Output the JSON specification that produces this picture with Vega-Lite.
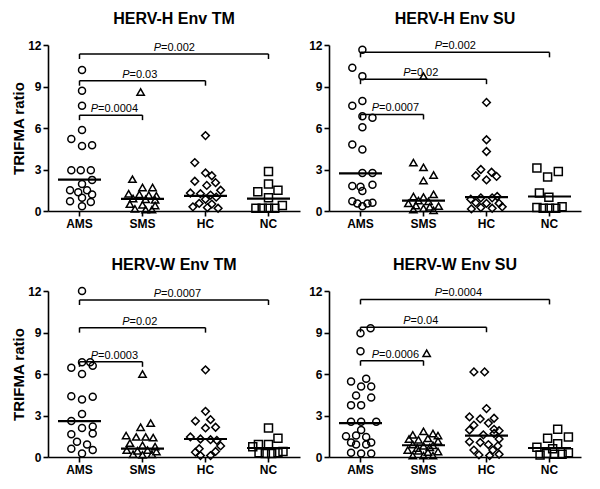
{
"$schema": "https://vega.github.io/schema/vega-lite/v6.json",
"background": "white",
"padding": {"left": 11, "top": 11, "right": 5, "bottom": 5},
"spacing": 27,
"config": {
 "view": {"stroke": null},
 "font": "Liberation Sans",
 "axis": {"domainColor": "#000", "domainWidth": 1.6, "tickColor": "#000", "tickWidth": 1.6, "tickSize": 5, "labelColor": "#000", "labelFont": "Liberation Sans", "labelFontSize": 12, "labelFontWeight": "bold", "grid": false, "titleFont": "Liberation Sans", "titleFontSize": 15, "titleFontWeight": "bold", "titleColor": "#000", "labelPadding": 2, "titlePadding": 1},
 "axisX": {"labelAngle": 0},
 "title": {"font": "Liberation Sans", "fontSize": 16, "fontWeight": "bold", "color": "#000", "anchor": "middle", "frame": "group", "offset": 12},
 "text": {"font": "Liberation Sans", "fontSize": 11, "color": "#000"}
},
"datasets": {
 "pts": [
  {"p":"HTM","g":"AMS","v":10.2,"j":0.04},{"p":"HTM","g":"AMS","v":8.7,"j":0.04},{"p":"HTM","g":"AMS","v":7.6,"j":0.04},{"p":"HTM","g":"AMS","v":5.85,"j":0.04},{"p":"HTM","g":"AMS","v":5.2,"j":-0.13},{"p":"HTM","g":"AMS","v":4.7,"j":0.04},{"p":"HTM","g":"AMS","v":4.75,"j":0.2},{"p":"HTM","g":"AMS","v":2.95,"j":-0.13},{"p":"HTM","g":"AMS","v":2.95,"j":0.02},{"p":"HTM","g":"AMS","v":2.95,"j":0.18},{"p":"HTM","g":"AMS","v":2.25,"j":0.2},{"p":"HTM","g":"AMS","v":1.95,"j":0.04},{"p":"HTM","g":"AMS","v":1.5,"j":-0.15},{"p":"HTM","g":"AMS","v":1.35,"j":-0.02},{"p":"HTM","g":"AMS","v":1.5,"j":0.12},{"p":"HTM","g":"AMS","v":1.2,"j":0.2},{"p":"HTM","g":"AMS","v":0.95,"j":0.04},{"p":"HTM","g":"AMS","v":0.7,"j":-0.15},{"p":"HTM","g":"AMS","v":0.65,"j":0.18},{"p":"HTM","g":"AMS","v":0.35,"j":0.04},
  {"p":"HTM","g":"SMS","v":8.6,"j":-0.03},{"p":"HTM","g":"SMS","v":2.3,"j":-0.16},{"p":"HTM","g":"SMS","v":1.7,"j":0.0},{"p":"HTM","g":"SMS","v":1.7,"j":0.16},{"p":"HTM","g":"SMS","v":1.25,"j":-0.22},{"p":"HTM","g":"SMS","v":1.2,"j":-0.05},{"p":"HTM","g":"SMS","v":1.15,"j":0.1},{"p":"HTM","g":"SMS","v":1.1,"j":0.22},{"p":"HTM","g":"SMS","v":0.9,"j":-0.15},{"p":"HTM","g":"SMS","v":0.85,"j":0.05},{"p":"HTM","g":"SMS","v":0.8,"j":0.2},{"p":"HTM","g":"SMS","v":0.5,"j":-0.2},{"p":"HTM","g":"SMS","v":0.45,"j":0.0},{"p":"HTM","g":"SMS","v":0.4,"j":0.2},{"p":"HTM","g":"SMS","v":0.15,"j":-0.12},{"p":"HTM","g":"SMS","v":0.1,"j":0.05},{"p":"HTM","g":"SMS","v":0.1,"j":0.15},
  {"p":"HTM","g":"HC","v":5.45,"j":0.0},{"p":"HTM","g":"HC","v":3.5,"j":-0.17},{"p":"HTM","g":"HC","v":2.75,"j":0.0},{"p":"HTM","g":"HC","v":2.55,"j":0.1},{"p":"HTM","g":"HC","v":2.15,"j":-0.17},{"p":"HTM","g":"HC","v":2.05,"j":0.16},{"p":"HTM","g":"HC","v":1.85,"j":0.02},{"p":"HTM","g":"HC","v":1.5,"j":0.24},{"p":"HTM","g":"HC","v":1.3,"j":-0.24},{"p":"HTM","g":"HC","v":1.25,"j":-0.08},{"p":"HTM","g":"HC","v":1.15,"j":0.08},{"p":"HTM","g":"HC","v":1.0,"j":0.17},{"p":"HTM","g":"HC","v":0.85,"j":0.0},{"p":"HTM","g":"HC","v":0.55,"j":-0.1},{"p":"HTM","g":"HC","v":0.5,"j":0.1},{"p":"HTM","g":"HC","v":0.3,"j":-0.2},{"p":"HTM","g":"HC","v":0.25,"j":0.03},{"p":"HTM","g":"HC","v":0.2,"j":0.2},
  {"p":"HTM","g":"NC","v":2.85,"j":0.0},{"p":"HTM","g":"NC","v":1.95,"j":0.0},{"p":"HTM","g":"NC","v":1.4,"j":-0.17},{"p":"HTM","g":"NC","v":1.5,"j":0.15},{"p":"HTM","g":"NC","v":0.95,"j":0.0},{"p":"HTM","g":"NC","v":0.4,"j":0.22},{"p":"HTM","g":"NC","v":0.2,"j":-0.2},{"p":"HTM","g":"NC","v":0.2,"j":-0.1},{"p":"HTM","g":"NC","v":0.2,"j":0.0},{"p":"HTM","g":"NC","v":0.2,"j":0.1},

  {"p":"HSU","g":"AMS","v":11.65,"j":0.03},{"p":"HSU","g":"AMS","v":10.35,"j":-0.13},{"p":"HSU","g":"AMS","v":9.75,"j":0.03},{"p":"HSU","g":"AMS","v":7.95,"j":0.03},{"p":"HSU","g":"AMS","v":7.6,"j":-0.13},{"p":"HSU","g":"AMS","v":6.85,"j":0.03},{"p":"HSU","g":"AMS","v":6.75,"j":0.19},{"p":"HSU","g":"AMS","v":6.05,"j":0.03},{"p":"HSU","g":"AMS","v":4.8,"j":-0.13},{"p":"HSU","g":"AMS","v":4.45,"j":0.03},{"p":"HSU","g":"AMS","v":2.75,"j":0.03},{"p":"HSU","g":"AMS","v":2.75,"j":0.19},{"p":"HSU","g":"AMS","v":1.8,"j":-0.13},{"p":"HSU","g":"AMS","v":1.9,"j":0.19},{"p":"HSU","g":"AMS","v":1.75,"j":0.0},{"p":"HSU","g":"AMS","v":1.45,"j":0.03},{"p":"HSU","g":"AMS","v":0.7,"j":-0.13},{"p":"HSU","g":"AMS","v":0.55,"j":-0.05},{"p":"HSU","g":"AMS","v":0.55,"j":0.11},{"p":"HSU","g":"AMS","v":0.6,"j":0.19},{"p":"HSU","g":"AMS","v":0.35,"j":0.03},
  {"p":"HSU","g":"SMS","v":9.75,"j":0.0},{"p":"HSU","g":"SMS","v":3.5,"j":-0.16},{"p":"HSU","g":"SMS","v":3.15,"j":0.0},{"p":"HSU","g":"SMS","v":2.6,"j":0.16},{"p":"HSU","g":"SMS","v":2.2,"j":0.0},{"p":"HSU","g":"SMS","v":1.2,"j":0.16},{"p":"HSU","g":"SMS","v":1.05,"j":-0.16},{"p":"HSU","g":"SMS","v":1.0,"j":0.0},{"p":"HSU","g":"SMS","v":0.75,"j":-0.08},{"p":"HSU","g":"SMS","v":0.7,"j":0.08},{"p":"HSU","g":"SMS","v":0.55,"j":-0.24},{"p":"HSU","g":"SMS","v":0.4,"j":-0.12},{"p":"HSU","g":"SMS","v":0.35,"j":0.24},{"p":"HSU","g":"SMS","v":0.3,"j":0.1},{"p":"HSU","g":"SMS","v":0.2,"j":0.0},{"p":"HSU","g":"SMS","v":0.1,"j":-0.16},{"p":"HSU","g":"SMS","v":0.05,"j":0.16},
  {"p":"HSU","g":"HC","v":7.85,"j":0.0},{"p":"HSU","g":"HC","v":5.15,"j":0.0},{"p":"HSU","g":"HC","v":4.3,"j":0.0},{"p":"HSU","g":"HC","v":3.0,"j":-0.09},{"p":"HSU","g":"HC","v":2.8,"j":0.08},{"p":"HSU","g":"HC","v":2.55,"j":-0.17},{"p":"HSU","g":"HC","v":2.5,"j":0.16},{"p":"HSU","g":"HC","v":2.25,"j":0.0},{"p":"HSU","g":"HC","v":1.05,"j":0.17},{"p":"HSU","g":"HC","v":0.95,"j":-0.09},{"p":"HSU","g":"HC","v":0.95,"j":0.09},{"p":"HSU","g":"HC","v":0.85,"j":-0.25},{"p":"HSU","g":"HC","v":0.6,"j":-0.17},{"p":"HSU","g":"HC","v":0.55,"j":0.0},{"p":"HSU","g":"HC","v":0.55,"j":0.2},{"p":"HSU","g":"HC","v":0.25,"j":-0.09},{"p":"HSU","g":"HC","v":0.2,"j":0.09},{"p":"HSU","g":"HC","v":0.15,"j":-0.24},{"p":"HSU","g":"HC","v":0.3,"j":0.25},
  {"p":"HSU","g":"NC","v":3.1,"j":-0.2},{"p":"HSU","g":"NC","v":2.85,"j":0.14},{"p":"HSU","g":"NC","v":2.45,"j":-0.03},{"p":"HSU","g":"NC","v":1.3,"j":-0.16},{"p":"HSU","g":"NC","v":1.0,"j":-0.01},{"p":"HSU","g":"NC","v":0.25,"j":-0.2},{"p":"HSU","g":"NC","v":0.2,"j":-0.1},{"p":"HSU","g":"NC","v":0.2,"j":0.0},{"p":"HSU","g":"NC","v":0.2,"j":0.1},{"p":"HSU","g":"NC","v":0.3,"j":0.2},

  {"p":"WTM","g":"AMS","v":12.0,"j":0.04},{"p":"WTM","g":"AMS","v":6.85,"j":0.04},{"p":"WTM","g":"AMS","v":6.85,"j":0.17},{"p":"WTM","g":"AMS","v":6.45,"j":-0.13},{"p":"WTM","g":"AMS","v":6.6,"j":0.21},{"p":"WTM","g":"AMS","v":6.0,"j":0.04},{"p":"WTM","g":"AMS","v":4.4,"j":-0.13},{"p":"WTM","g":"AMS","v":4.15,"j":0.04},{"p":"WTM","g":"AMS","v":4.35,"j":0.21},{"p":"WTM","g":"AMS","v":3.1,"j":0.04},{"p":"WTM","g":"AMS","v":2.6,"j":-0.13},{"p":"WTM","g":"AMS","v":2.1,"j":0.04},{"p":"WTM","g":"AMS","v":2.2,"j":0.21},{"p":"WTM","g":"AMS","v":1.65,"j":-0.13},{"p":"WTM","g":"AMS","v":1.7,"j":0.21},{"p":"WTM","g":"AMS","v":1.1,"j":-0.04},{"p":"WTM","g":"AMS","v":0.9,"j":0.12},{"p":"WTM","g":"AMS","v":0.6,"j":-0.13},{"p":"WTM","g":"AMS","v":0.5,"j":0.21},{"p":"WTM","g":"AMS","v":0.25,"j":0.04},
  {"p":"WTM","g":"SMS","v":6.0,"j":0.0},{"p":"WTM","g":"SMS","v":2.45,"j":0.13},{"p":"WTM","g":"SMS","v":2.15,"j":-0.03},{"p":"WTM","g":"SMS","v":1.55,"j":-0.26},{"p":"WTM","g":"SMS","v":1.45,"j":-0.1},{"p":"WTM","g":"SMS","v":1.45,"j":0.05},{"p":"WTM","g":"SMS","v":1.4,"j":0.17},{"p":"WTM","g":"SMS","v":1.0,"j":-0.2},{"p":"WTM","g":"SMS","v":0.85,"j":0.0},{"p":"WTM","g":"SMS","v":0.75,"j":0.2},{"p":"WTM","g":"SMS","v":0.5,"j":-0.25},{"p":"WTM","g":"SMS","v":0.45,"j":-0.08},{"p":"WTM","g":"SMS","v":0.5,"j":0.08},{"p":"WTM","g":"SMS","v":0.4,"j":0.22},{"p":"WTM","g":"SMS","v":0.2,"j":-0.15},{"p":"WTM","g":"SMS","v":0.15,"j":0.0},{"p":"WTM","g":"SMS","v":0.2,"j":0.15},
  {"p":"WTM","g":"HC","v":6.3,"j":0.0},{"p":"WTM","g":"HC","v":3.3,"j":0.0},{"p":"WTM","g":"HC","v":2.6,"j":-0.16},{"p":"WTM","g":"HC","v":2.7,"j":0.08},{"p":"WTM","g":"HC","v":2.1,"j":0.0},{"p":"WTM","g":"HC","v":2.15,"j":0.16},{"p":"WTM","g":"HC","v":1.45,"j":-0.24},{"p":"WTM","g":"HC","v":1.3,"j":-0.08},{"p":"WTM","g":"HC","v":1.25,"j":0.08},{"p":"WTM","g":"HC","v":1.2,"j":0.18},{"p":"WTM","g":"HC","v":0.8,"j":0.24},{"p":"WTM","g":"HC","v":0.6,"j":-0.1},{"p":"WTM","g":"HC","v":0.35,"j":-0.16},{"p":"WTM","g":"HC","v":0.4,"j":0.16},{"p":"WTM","g":"HC","v":0.1,"j":-0.08},{"p":"WTM","g":"HC","v":0.1,"j":0.08},
  {"p":"WTM","g":"NC","v":2.1,"j":0.0},{"p":"WTM","g":"NC","v":1.35,"j":0.15},{"p":"WTM","g":"NC","v":0.9,"j":-0.16},{"p":"WTM","g":"NC","v":0.9,"j":0.0},{"p":"WTM","g":"NC","v":0.75,"j":-0.25},{"p":"WTM","g":"NC","v":0.3,"j":-0.15},{"p":"WTM","g":"NC","v":0.25,"j":-0.05},{"p":"WTM","g":"NC","v":0.25,"j":0.05},{"p":"WTM","g":"NC","v":0.3,"j":0.15},{"p":"WTM","g":"NC","v":0.4,"j":0.23},

  {"p":"WSU","g":"AMS","v":9.3,"j":0.16},{"p":"WSU","g":"AMS","v":8.95,"j":0.0},{"p":"WSU","g":"AMS","v":7.65,"j":0.0},{"p":"WSU","g":"AMS","v":5.45,"j":-0.15},{"p":"WSU","g":"AMS","v":5.65,"j":0.09},{"p":"WSU","g":"AMS","v":5.1,"j":0.01},{"p":"WSU","g":"AMS","v":5.1,"j":0.17},{"p":"WSU","g":"AMS","v":4.45,"j":-0.07},{"p":"WSU","g":"AMS","v":4.3,"j":0.17},{"p":"WSU","g":"AMS","v":3.75,"j":-0.15},{"p":"WSU","g":"AMS","v":3.75,"j":0.01},{"p":"WSU","g":"AMS","v":2.55,"j":-0.15},{"p":"WSU","g":"AMS","v":2.55,"j":0.01},{"p":"WSU","g":"AMS","v":2.55,"j":0.25},{"p":"WSU","g":"AMS","v":1.95,"j":0.01},{"p":"WSU","g":"AMS","v":1.5,"j":-0.23},{"p":"WSU","g":"AMS","v":1.55,"j":-0.07},{"p":"WSU","g":"AMS","v":1.45,"j":0.09},{"p":"WSU","g":"AMS","v":1.05,"j":-0.15},{"p":"WSU","g":"AMS","v":1.05,"j":0.17},{"p":"WSU","g":"AMS","v":0.9,"j":-0.07},{"p":"WSU","g":"AMS","v":0.9,"j":0.09},{"p":"WSU","g":"AMS","v":0.3,"j":-0.15},{"p":"WSU","g":"AMS","v":0.25,"j":0.01},{"p":"WSU","g":"AMS","v":0.25,"j":0.17},
  {"p":"WSU","g":"SMS","v":7.5,"j":0.05},{"p":"WSU","g":"SMS","v":1.85,"j":0.0},{"p":"WSU","g":"SMS","v":1.7,"j":0.15},{"p":"WSU","g":"SMS","v":1.6,"j":-0.17},{"p":"WSU","g":"SMS","v":1.55,"j":0.23},{"p":"WSU","g":"SMS","v":1.3,"j":-0.23},{"p":"WSU","g":"SMS","v":1.25,"j":-0.08},{"p":"WSU","g":"SMS","v":1.35,"j":0.07},{"p":"WSU","g":"SMS","v":1.15,"j":0.23},{"p":"WSU","g":"SMS","v":0.9,"j":-0.17},{"p":"WSU","g":"SMS","v":0.8,"j":0.0},{"p":"WSU","g":"SMS","v":0.85,"j":0.15},{"p":"WSU","g":"SMS","v":0.5,"j":-0.25},{"p":"WSU","g":"SMS","v":0.45,"j":-0.08},{"p":"WSU","g":"SMS","v":0.35,"j":0.07},{"p":"WSU","g":"SMS","v":0.4,"j":0.23},{"p":"WSU","g":"SMS","v":0.1,"j":-0.17},{"p":"WSU","g":"SMS","v":0.1,"j":0.0},{"p":"WSU","g":"SMS","v":0.1,"j":0.15},{"p":"WSU","g":"SMS","v":0.65,"j":-0.1},{"p":"WSU","g":"SMS","v":0.7,"j":0.1},
  {"p":"WSU","g":"HC","v":6.15,"j":-0.2},{"p":"WSU","g":"HC","v":6.15,"j":-0.03},{"p":"WSU","g":"HC","v":3.5,"j":0.0},{"p":"WSU","g":"HC","v":2.9,"j":-0.27},{"p":"WSU","g":"HC","v":2.75,"j":-0.1},{"p":"WSU","g":"HC","v":2.8,"j":0.12},{"p":"WSU","g":"HC","v":2.3,"j":-0.2},{"p":"WSU","g":"HC","v":2.45,"j":0.03},{"p":"WSU","g":"HC","v":2.0,"j":0.12},{"p":"WSU","g":"HC","v":1.95,"j":-0.27},{"p":"WSU","g":"HC","v":1.9,"j":0.2},{"p":"WSU","g":"HC","v":1.6,"j":-0.05},{"p":"WSU","g":"HC","v":1.7,"j":0.12},{"p":"WSU","g":"HC","v":1.3,"j":0.2},{"p":"WSU","g":"HC","v":1.1,"j":-0.27},{"p":"WSU","g":"HC","v":1.05,"j":-0.1},{"p":"WSU","g":"HC","v":0.9,"j":0.03},{"p":"WSU","g":"HC","v":0.8,"j":0.18},{"p":"WSU","g":"HC","v":0.5,"j":-0.2},{"p":"WSU","g":"HC","v":0.5,"j":0.1},{"p":"WSU","g":"HC","v":0.15,"j":-0.12},{"p":"WSU","g":"HC","v":0.1,"j":0.05},{"p":"WSU","g":"HC","v":0.2,"j":0.2},
  {"p":"WSU","g":"NC","v":2.0,"j":0.13},{"p":"WSU","g":"NC","v":1.35,"j":-0.03},{"p":"WSU","g":"NC","v":1.45,"j":0.3},{"p":"WSU","g":"NC","v":0.95,"j":0.13},{"p":"WSU","g":"NC","v":0.7,"j":-0.2},{"p":"WSU","g":"NC","v":0.6,"j":0.05},{"p":"WSU","g":"NC","v":0.25,"j":-0.05},{"p":"WSU","g":"NC","v":0.2,"j":0.08},{"p":"WSU","g":"NC","v":0.2,"j":0.2},{"p":"WSU","g":"NC","v":0.3,"j":0.3},{"p":"WSU","g":"NC","v":0.15,"j":-0.15}
 ],
 "med": [
  {"p":"HTM","g":"AMS","v":2.27},{"p":"HTM","g":"SMS","v":0.87},{"p":"HTM","g":"HC","v":1.1},{"p":"HTM","g":"NC","v":0.9},
  {"p":"HSU","g":"AMS","v":2.72},{"p":"HSU","g":"SMS","v":0.75},{"p":"HSU","g":"HC","v":1.0},{"p":"HSU","g":"NC","v":1.05},
  {"p":"WTM","g":"AMS","v":2.6},{"p":"WTM","g":"SMS","v":0.6},{"p":"WTM","g":"HC","v":1.3},{"p":"WTM","g":"NC","v":0.65},
  {"p":"WSU","g":"AMS","v":2.45},{"p":"WSU","g":"SMS","v":0.85},{"p":"WSU","g":"HC","v":1.55},{"p":"WSU","g":"NC","v":0.65}
 ],
 "br": [
  {"p":"HTM","a":1,"b":2,"v":6.93,"t":"=0.0004"},{"p":"HTM","a":1,"b":3,"v":9.42,"t":"=0.03"},{"p":"HTM","a":1,"b":4,"v":11.35,"t":"=0.002"},
  {"p":"HSU","a":1,"b":2,"v":6.98,"t":"=0.0007"},{"p":"HSU","a":1,"b":3,"v":9.53,"t":"=0.02"},{"p":"HSU","a":1,"b":4,"v":11.47,"t":"=0.002"},
  {"p":"WTM","a":1,"b":2,"v":6.88,"t":"=0.0003"},{"p":"WTM","a":1,"b":3,"v":9.35,"t":"=0.02"},{"p":"WTM","a":1,"b":4,"v":11.35,"t":"=0.0007"},
  {"p":"WSU","a":1,"b":2,"v":6.96,"t":"=0.0006"},{"p":"WSU","a":1,"b":3,"v":9.38,"t":"=0.04"},{"p":"WSU","a":1,"b":4,"v":11.39,"t":"=0.0004"}
 ]
},
"vconcat": [
 {"spacing": 8, "hconcat": [
  {"width": 252, "height": 166, "title": {"text": "HERV-H Env TM"}, "resolve": {"scale": {"x": "independent"}},
   "layer": [
    {"layer": [
     {"data": {"name": "pts"}, "transform": [{"filter": "datum.p === 'HTM'"}],
      "mark": {"type": "point", "filled": false, "stroke": "#000", "strokeWidth": 1.5, "opacity": 1},
      "encoding": {
       "x": {"field": "g", "type": "nominal", "scale": {"domain": ["AMS","SMS","HC","NC"], "paddingInner": 0, "paddingOuter": 0}, "axis": {"title": null}},
       "xOffset": {"field": "j", "type": "quantitative", "scale": {"domain": [-0.5, 0.5]}},
       "y": {"field": "v", "type": "quantitative", "scale": {"domain": [0, 12], "nice": false}, "axis": {"values": [0,3,6,9,12]}, "title": "TRIFMA ratio"},
       "shape": {"field": "g", "type": "nominal", "scale": {"domain": ["AMS","SMS","HC","NC"], "range": ["circle","triangle-up","diamond","square"]}, "legend": null},
       "size": {"field": "g", "type": "nominal", "scale": {"domain": ["AMS","SMS","HC","NC"], "range": [49,64,81,49]}, "legend": null}
      }},
     {"data": {"name": "med"}, "transform": [{"filter": "datum.p === 'HTM'"}],
      "mark": {"type": "tick", "orient": "horizontal", "color": "#000", "size": 43, "thickness": 2.2, "opacity": 1},
      "encoding": {"x": {"field": "g", "type": "nominal"}, "y": {"field": "v", "type": "quantitative", "title": "TRIFMA ratio"}}}
    ]},
    {"data": {"name": "br"}, "transform": [{"filter": "datum.p === 'HTM'"}],
     "layer": [
      {"mark": {"type": "rule", "color": "#000", "strokeWidth": 1.5}, "encoding": {"x": {"field": "a", "type": "quantitative", "scale": {"domain": [0.5, 4.5]}, "axis": null}, "x2": {"field": "b"}, "y": {"field": "v", "type": "quantitative", "title": "TRIFMA ratio"}}},
      {"mark": {"type": "tick", "orient": "vertical", "color": "#000", "size": 5, "thickness": 1.5, "yOffset": 2.5, "opacity": 1}, "encoding": {"x": {"field": "a", "type": "quantitative", "axis": null}, "y": {"field": "v", "type": "quantitative", "title": "TRIFMA ratio"}}},
      {"mark": {"type": "tick", "orient": "vertical", "color": "#000", "size": 5, "thickness": 1.5, "yOffset": 2.5, "opacity": 1}, "encoding": {"x": {"field": "b", "type": "quantitative", "axis": null}, "y": {"field": "v", "type": "quantitative", "title": "TRIFMA ratio"}}},
      {"transform": [{"fold": ["a","b"], "as": ["k","xv"]}], "mark": {"type": "text", "fontStyle": "italic", "align": "right", "baseline": "alphabetic", "dx": -13, "dy": -3}, "encoding": {"x": {"aggregate": "mean", "field": "xv", "type": "quantitative", "axis": null}, "y": {"field": "v", "type": "quantitative", "title": "TRIFMA ratio"}, "detail": {"field": "t"}, "text": {"value": "P"}}},
      {"transform": [{"fold": ["a","b"], "as": ["k","xv"]}], "mark": {"type": "text", "align": "left", "baseline": "alphabetic", "dx": -13, "dy": -3}, "encoding": {"x": {"aggregate": "mean", "field": "xv", "type": "quantitative", "axis": null}, "y": {"field": "v", "type": "quantitative", "title": "TRIFMA ratio"}, "text": {"field": "t"}}}
     ]}
   ]},
  {"width": 252, "height": 166, "title": {"text": "HERV-H  Env SU"}, "resolve": {"scale": {"x": "independent"}},
   "layer": [
    {"layer": [
     {"data": {"name": "pts"}, "transform": [{"filter": "datum.p === 'HSU'"}],
      "mark": {"type": "point", "filled": false, "stroke": "#000", "strokeWidth": 1.5, "opacity": 1},
      "encoding": {
       "x": {"field": "g", "type": "nominal", "scale": {"domain": ["AMS","SMS","HC","NC"], "paddingInner": 0, "paddingOuter": 0}, "axis": {"title": null}},
       "xOffset": {"field": "j", "type": "quantitative", "scale": {"domain": [-0.5, 0.5]}},
       "y": {"field": "v", "type": "quantitative", "scale": {"domain": [0, 12], "nice": false}, "axis": {"values": [0,3,6,9,12]}, "title": null},
       "shape": {"field": "g", "type": "nominal", "scale": {"domain": ["AMS","SMS","HC","NC"], "range": ["circle","triangle-up","diamond","square"]}, "legend": null},
       "size": {"field": "g", "type": "nominal", "scale": {"domain": ["AMS","SMS","HC","NC"], "range": [49,64,81,49]}, "legend": null}
      }},
     {"data": {"name": "med"}, "transform": [{"filter": "datum.p === 'HSU'"}],
      "mark": {"type": "tick", "orient": "horizontal", "color": "#000", "size": 43, "thickness": 2.2, "opacity": 1},
      "encoding": {"x": {"field": "g", "type": "nominal"}, "y": {"field": "v", "type": "quantitative", "title": null}}}
    ]},
    {"data": {"name": "br"}, "transform": [{"filter": "datum.p === 'HSU'"}],
     "layer": [
      {"mark": {"type": "rule", "color": "#000", "strokeWidth": 1.5}, "encoding": {"x": {"field": "a", "type": "quantitative", "scale": {"domain": [0.5, 4.5]}, "axis": null}, "x2": {"field": "b"}, "y": {"field": "v", "type": "quantitative", "title": null}}},
      {"mark": {"type": "tick", "orient": "vertical", "color": "#000", "size": 5, "thickness": 1.5, "yOffset": 2.5, "opacity": 1}, "encoding": {"x": {"field": "a", "type": "quantitative", "axis": null}, "y": {"field": "v", "type": "quantitative", "title": null}}},
      {"mark": {"type": "tick", "orient": "vertical", "color": "#000", "size": 5, "thickness": 1.5, "yOffset": 2.5, "opacity": 1}, "encoding": {"x": {"field": "b", "type": "quantitative", "axis": null}, "y": {"field": "v", "type": "quantitative", "title": null}}},
      {"transform": [{"fold": ["a","b"], "as": ["k","xv"]}], "mark": {"type": "text", "fontStyle": "italic", "align": "right", "baseline": "alphabetic", "dx": -13, "dy": -3}, "encoding": {"x": {"aggregate": "mean", "field": "xv", "type": "quantitative", "axis": null}, "y": {"field": "v", "type": "quantitative", "title": null}, "detail": {"field": "t"}, "text": {"value": "P"}}},
      {"transform": [{"fold": ["a","b"], "as": ["k","xv"]}], "mark": {"type": "text", "align": "left", "baseline": "alphabetic", "dx": -13, "dy": -3}, "encoding": {"x": {"aggregate": "mean", "field": "xv", "type": "quantitative", "axis": null}, "y": {"field": "v", "type": "quantitative", "title": null}, "text": {"field": "t"}}}
     ]}
   ]}
 ]},
 {"spacing": 8, "hconcat": [
  {"width": 252, "height": 166, "title": {"text": "HERV-W Env TM"}, "resolve": {"scale": {"x": "independent"}},
   "layer": [
    {"layer": [
     {"data": {"name": "pts"}, "transform": [{"filter": "datum.p === 'WTM'"}],
      "mark": {"type": "point", "filled": false, "stroke": "#000", "strokeWidth": 1.5, "opacity": 1},
      "encoding": {
       "x": {"field": "g", "type": "nominal", "scale": {"domain": ["AMS","SMS","HC","NC"], "paddingInner": 0, "paddingOuter": 0}, "axis": {"title": null}},
       "xOffset": {"field": "j", "type": "quantitative", "scale": {"domain": [-0.5, 0.5]}},
       "y": {"field": "v", "type": "quantitative", "scale": {"domain": [0, 12], "nice": false}, "axis": {"values": [0,3,6,9,12]}, "title": "TRIFMA ratio"},
       "shape": {"field": "g", "type": "nominal", "scale": {"domain": ["AMS","SMS","HC","NC"], "range": ["circle","triangle-up","diamond","square"]}, "legend": null},
       "size": {"field": "g", "type": "nominal", "scale": {"domain": ["AMS","SMS","HC","NC"], "range": [49,64,81,49]}, "legend": null}
      }},
     {"data": {"name": "med"}, "transform": [{"filter": "datum.p === 'WTM'"}],
      "mark": {"type": "tick", "orient": "horizontal", "color": "#000", "size": 43, "thickness": 2.2, "opacity": 1},
      "encoding": {"x": {"field": "g", "type": "nominal"}, "y": {"field": "v", "type": "quantitative", "title": "TRIFMA ratio"}}}
    ]},
    {"data": {"name": "br"}, "transform": [{"filter": "datum.p === 'WTM'"}],
     "layer": [
      {"mark": {"type": "rule", "color": "#000", "strokeWidth": 1.5}, "encoding": {"x": {"field": "a", "type": "quantitative", "scale": {"domain": [0.5, 4.5]}, "axis": null}, "x2": {"field": "b"}, "y": {"field": "v", "type": "quantitative", "title": "TRIFMA ratio"}}},
      {"mark": {"type": "tick", "orient": "vertical", "color": "#000", "size": 5, "thickness": 1.5, "yOffset": 2.5, "opacity": 1}, "encoding": {"x": {"field": "a", "type": "quantitative", "axis": null}, "y": {"field": "v", "type": "quantitative", "title": "TRIFMA ratio"}}},
      {"mark": {"type": "tick", "orient": "vertical", "color": "#000", "size": 5, "thickness": 1.5, "yOffset": 2.5, "opacity": 1}, "encoding": {"x": {"field": "b", "type": "quantitative", "axis": null}, "y": {"field": "v", "type": "quantitative", "title": "TRIFMA ratio"}}},
      {"transform": [{"fold": ["a","b"], "as": ["k","xv"]}], "mark": {"type": "text", "fontStyle": "italic", "align": "right", "baseline": "alphabetic", "dx": -13, "dy": -3}, "encoding": {"x": {"aggregate": "mean", "field": "xv", "type": "quantitative", "axis": null}, "y": {"field": "v", "type": "quantitative", "title": "TRIFMA ratio"}, "detail": {"field": "t"}, "text": {"value": "P"}}},
      {"transform": [{"fold": ["a","b"], "as": ["k","xv"]}], "mark": {"type": "text", "align": "left", "baseline": "alphabetic", "dx": -13, "dy": -3}, "encoding": {"x": {"aggregate": "mean", "field": "xv", "type": "quantitative", "axis": null}, "y": {"field": "v", "type": "quantitative", "title": "TRIFMA ratio"}, "text": {"field": "t"}}}
     ]}
   ]},
  {"width": 252, "height": 166, "title": {"text": "HERV-W Env SU"}, "resolve": {"scale": {"x": "independent"}},
   "layer": [
    {"layer": [
     {"data": {"name": "pts"}, "transform": [{"filter": "datum.p === 'WSU'"}],
      "mark": {"type": "point", "filled": false, "stroke": "#000", "strokeWidth": 1.5, "opacity": 1},
      "encoding": {
       "x": {"field": "g", "type": "nominal", "scale": {"domain": ["AMS","SMS","HC","NC"], "paddingInner": 0, "paddingOuter": 0}, "axis": {"title": null}},
       "xOffset": {"field": "j", "type": "quantitative", "scale": {"domain": [-0.5, 0.5]}},
       "y": {"field": "v", "type": "quantitative", "scale": {"domain": [0, 12], "nice": false}, "axis": {"values": [0,3,6,9,12]}, "title": null},
       "shape": {"field": "g", "type": "nominal", "scale": {"domain": ["AMS","SMS","HC","NC"], "range": ["circle","triangle-up","diamond","square"]}, "legend": null},
       "size": {"field": "g", "type": "nominal", "scale": {"domain": ["AMS","SMS","HC","NC"], "range": [49,64,81,49]}, "legend": null}
      }},
     {"data": {"name": "med"}, "transform": [{"filter": "datum.p === 'WSU'"}],
      "mark": {"type": "tick", "orient": "horizontal", "color": "#000", "size": 43, "thickness": 2.2, "opacity": 1},
      "encoding": {"x": {"field": "g", "type": "nominal"}, "y": {"field": "v", "type": "quantitative", "title": null}}}
    ]},
    {"data": {"name": "br"}, "transform": [{"filter": "datum.p === 'WSU'"}],
     "layer": [
      {"mark": {"type": "rule", "color": "#000", "strokeWidth": 1.5}, "encoding": {"x": {"field": "a", "type": "quantitative", "scale": {"domain": [0.5, 4.5]}, "axis": null}, "x2": {"field": "b"}, "y": {"field": "v", "type": "quantitative", "title": null}}},
      {"mark": {"type": "tick", "orient": "vertical", "color": "#000", "size": 5, "thickness": 1.5, "yOffset": 2.5, "opacity": 1}, "encoding": {"x": {"field": "a", "type": "quantitative", "axis": null}, "y": {"field": "v", "type": "quantitative", "title": null}}},
      {"mark": {"type": "tick", "orient": "vertical", "color": "#000", "size": 5, "thickness": 1.5, "yOffset": 2.5, "opacity": 1}, "encoding": {"x": {"field": "b", "type": "quantitative", "axis": null}, "y": {"field": "v", "type": "quantitative", "title": null}}},
      {"transform": [{"fold": ["a","b"], "as": ["k","xv"]}], "mark": {"type": "text", "fontStyle": "italic", "align": "right", "baseline": "alphabetic", "dx": -13, "dy": -3}, "encoding": {"x": {"aggregate": "mean", "field": "xv", "type": "quantitative", "axis": null}, "y": {"field": "v", "type": "quantitative", "title": null}, "detail": {"field": "t"}, "text": {"value": "P"}}},
      {"transform": [{"fold": ["a","b"], "as": ["k","xv"]}], "mark": {"type": "text", "align": "left", "baseline": "alphabetic", "dx": -13, "dy": -3}, "encoding": {"x": {"aggregate": "mean", "field": "xv", "type": "quantitative", "axis": null}, "y": {"field": "v", "type": "quantitative", "title": null}, "text": {"field": "t"}}}
     ]}
   ]}
 ]}
]
}
